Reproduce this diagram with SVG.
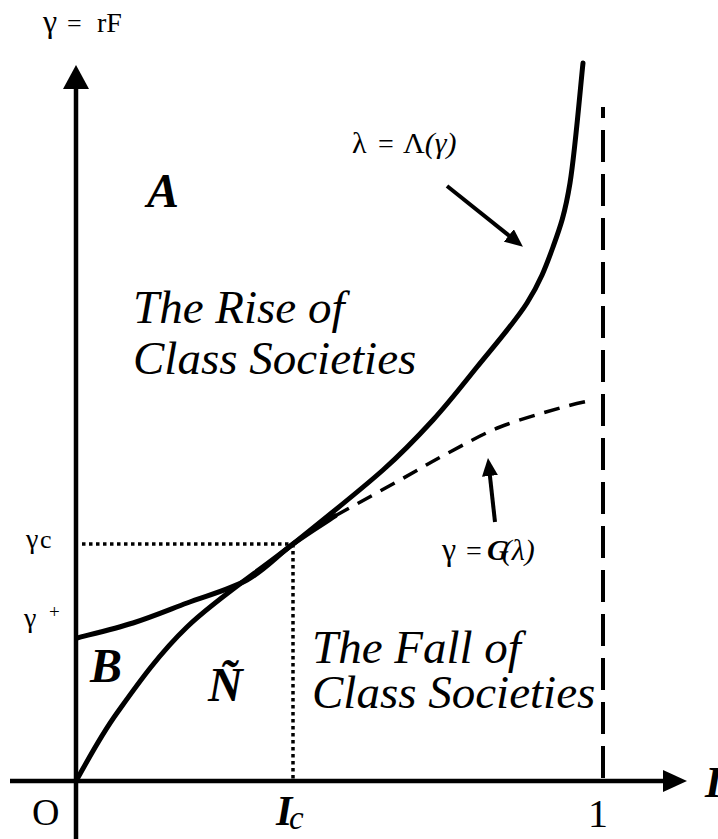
<svg xmlns="http://www.w3.org/2000/svg" width="718" height="839" viewBox="0 0 718 839">
<style>
  .ax{stroke:#000;stroke-width:4.5;fill:none}
  .cv{stroke:#000;stroke-width:5;fill:none;stroke-linejoin:round;stroke-linecap:round}
  .dash{stroke:#000;stroke-width:3.5;fill:none;stroke-dasharray:16 10}
  .vdash{stroke:#000;stroke-width:4;fill:none;stroke-dasharray:32 12;stroke-dashoffset:21}
  .dot{stroke:#000;stroke-width:3.5;fill:none;stroke-dasharray:3.5 3.5}
  .ptr{stroke:#000;stroke-width:4;fill:none}
  text{font-family:"Liberation Serif","Times New Roman",serif;fill:#000}
  .bi{font-weight:bold;font-style:italic}
  .it{font-style:italic}
</style>
<defs>
  <marker id="ah" viewBox="0 0 18 16" refX="4" refY="8" markerWidth="18" markerHeight="16" markerUnits="userSpaceOnUse" orient="auto">
    <path d="M0,0 L18,8 L0,16 z" fill="#000"/>
  </marker>
</defs>

<g id="axes">
  <line class="ax" x1="76" y1="86" x2="76" y2="839"/>
  <polygon points="76,65 63,89 89,89" fill="#000"/>
  <line class="ax" x1="10" y1="781" x2="665" y2="781"/>
  <polygon points="687,781 663,770 663,792" fill="#000"/>
  <line class="vdash" x1="603" y1="107" x2="603" y2="781"/>
</g>

<g id="guides">
  <line class="dot" x1="82" y1="544" x2="293" y2="544"/>
  <line class="dot" x1="293" y1="544" x2="293" y2="781"/>
</g>

<g id="curve-lambda">
  <path class="cv" d="M76,781 C82.8,769.7 98.5,738.7 117,713 C135.5,687.3 157.7,655.2 187,627 C216.3,598.8 260.3,570.2 293,544 C325.7,517.8 359.7,490.7 383,470 C406.3,449.3 417.3,437.2 433,420 C448.7,402.8 461.3,386.5 477,367 C492.7,347.5 514.3,323 527,303 C539.7,283 545.8,267 553,247 C560.2,227 565,213.7 570,183 C575,152.3 580.8,83 583,63"/>
</g>

<g id="curve-g">
  <path class="cv" d="M77,638 C86.3,635.5 114.7,628.8 133,623 C151.3,617.2 168,610.2 187,603 C206,595.8 229.3,589.8 247,580 C264.7,570.2 278.3,554.7 293,544 C307.7,533.3 328,520.7 335,516"/>
  <path class="dash" d="M335,516 C345.8,510 380.8,490.7 400,480 C419.2,469.3 433.3,460.8 450,452 C466.7,443.2 481.7,434.3 500,427 C518.3,419.7 544.5,412.5 560,408 C575.5,403.5 587.5,401.3 593,400"/>
</g>

<g id="connectors">
  <line class="ptr" x1="447" y1="186" x2="512" y2="238" marker-end="url(#ah)"/>
  <line class="ptr" x1="495" y1="522" x2="489.5" y2="472" marker-end="url(#ah)"/>
</g>

<g id="labels">
  <text font-size="26" y="32"><tspan x="43" font-size="32">γ</tspan><tspan x="67">=</tspan><tspan x="97" font-size="28">rF</tspan></text>
  <text font-size="28" y="153"><tspan x="352" font-size="30">λ</tspan><tspan x="378">=</tspan><tspan x="403" font-size="30">Λ</tspan><tspan class="it" font-size="30">(γ)</tspan></text>
  <text font-size="28" y="560"><tspan x="442" font-size="32">γ</tspan><tspan x="466">=</tspan><tspan class="bi" x="487" font-size="30">G</tspan><tspan class="it" dx="-7" font-size="30">(λ)</tspan></text>
  <text font-size="26" y="548"><tspan x="26" font-size="28">γ</tspan><tspan x="40">c</tspan></text>
  <text font-size="28" y="627"><tspan x="24">γ</tspan><tspan x="49" y="618" font-size="19">+</tspan></text>
  <text class="bi" font-size="48" x="147" y="207">A</text>
  <text class="bi" font-size="48" x="90" y="682">B</text>
  <text class="bi" font-size="48" x="208" y="701">Ñ</text>
  <text class="it" font-size="47" x="133" y="323">The Rise of</text>
  <text class="it" font-size="47" x="133" y="374">Class Societies</text>
  <text class="it" font-size="47" x="312" y="663">The Fall of</text>
  <text class="it" font-size="47" x="312" y="708">Class Societies</text>
  <text font-size="38" x="32" y="825">O</text>
  <text font-size="42" y="825"><tspan class="bi" x="276">I</tspan><tspan class="it" font-size="33" x="289" y="829">c</tspan></text>
  <text font-size="40" x="598" y="827" text-anchor="middle">1</text>
  <text class="bi" font-size="44" x="705" y="797">I</text>
</g>
</svg>
